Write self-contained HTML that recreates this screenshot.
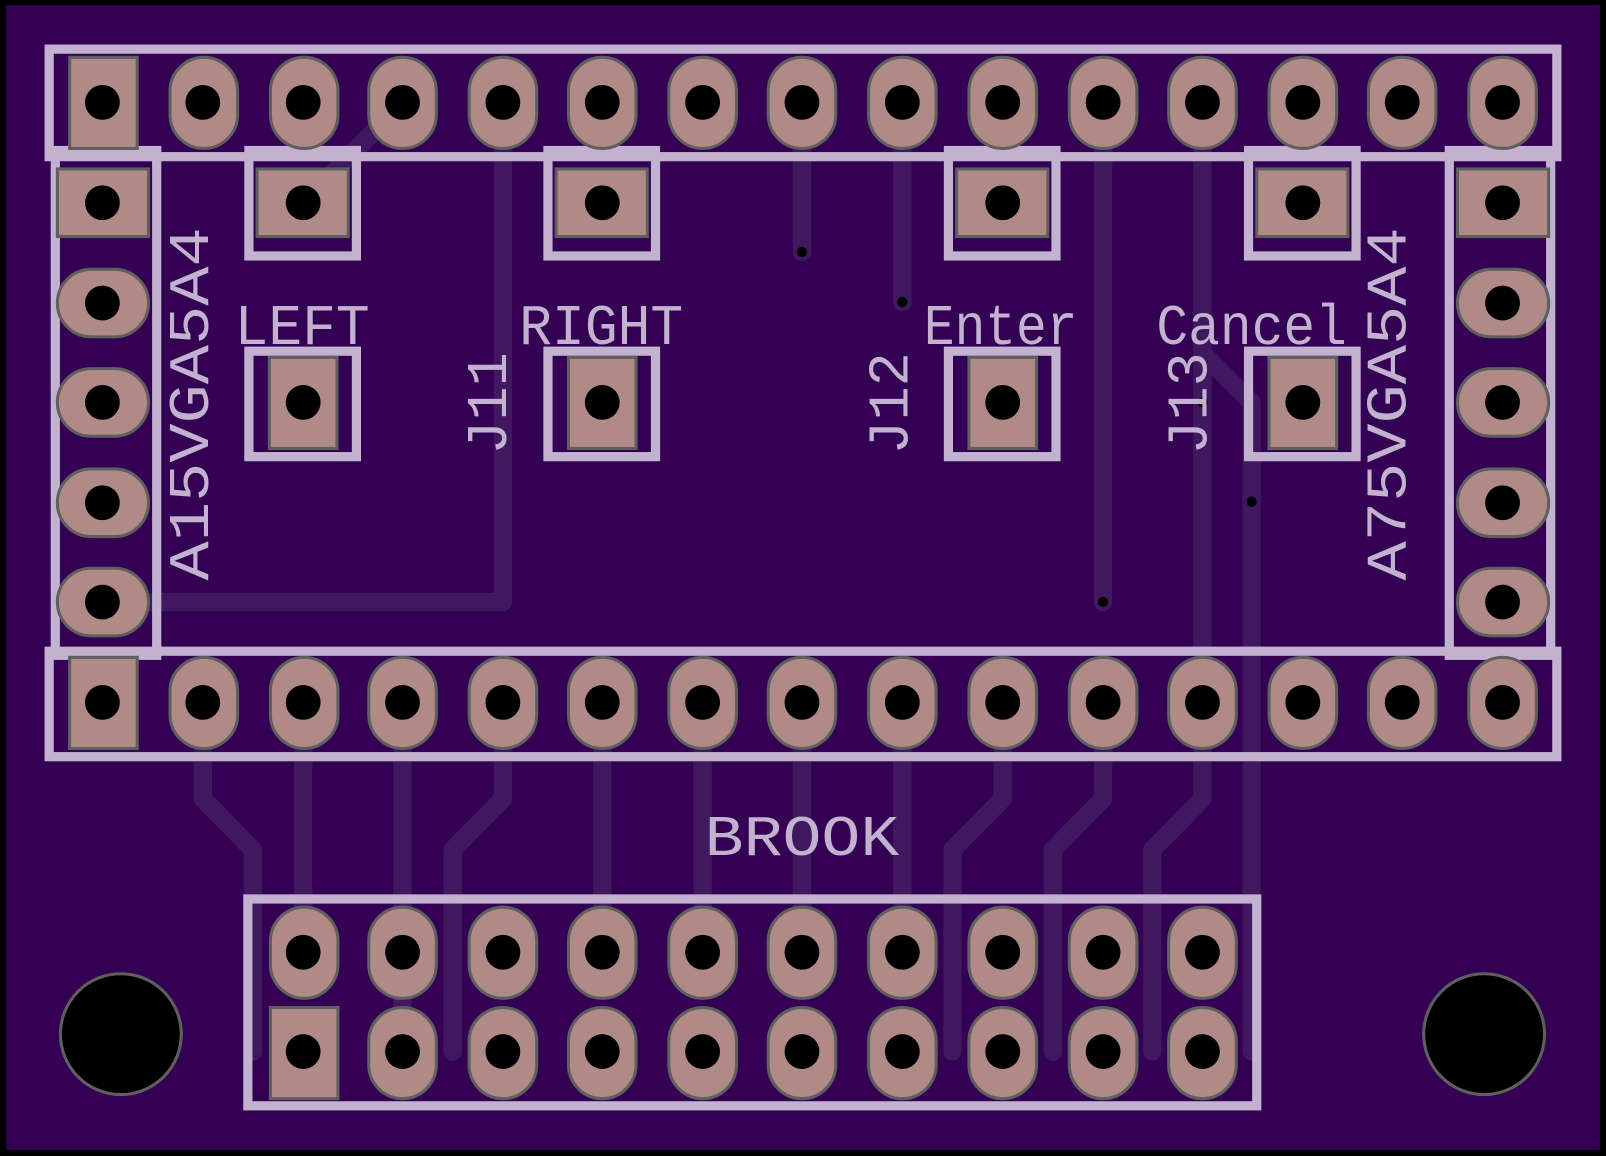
<!DOCTYPE html>
<html><head><meta charset="utf-8"><style>
html,body{margin:0;padding:0;background:#000;}
svg{display:block}
</style></head><body>
<svg width="1606" height="1156" viewBox="0 0 1568 1129" preserveAspectRatio="none" xmlns="http://www.w3.org/2000/svg">
<rect x="0" y="0" width="1568" height="1129" fill="#000"/>
<rect x="6" y="5" width="1556" height="1118" fill="#330054"/>
<!-- traces -->
<g fill="none" stroke="#3f185f" stroke-width="18" stroke-linejoin="round" stroke-linecap="round">
<path d="M198 686 V780 L247 830 V1027"/>
<path d="M296 686 V930"/>
<path d="M393 686 V1027"/>
<path d="M491 686 V780 L442 830 V1027"/>
<path d="M588 686 V930"/>
<path d="M686 686 V930"/>
<path d="M783 686 V930"/>
<path d="M881 686 V930"/>
<path d="M979 686 V780 L930 830 V1027"/>
<path d="M1077 686 V780 L1028 830 V1027"/>
<path d="M1174 686 V780 L1125 830 V1027"/>
<path d="M1222 490 V1027"/>
<path d="M491 100 V588 H100"/>
<path d="M783 100 V246"/>
<path d="M881 100 V295"/>
<path d="M1077 100 V588"/>
<path d="M1174 100 V686"/>
<path d="M1174 345 L1222 393 V490"/>
<path d="M296 198 L393 100"/>
</g>
<g fill="#000"><circle cx="783" cy="246" r="5"/><circle cx="881" cy="295" r="5"/><circle cx="1077" cy="588" r="5"/><circle cx="1174" cy="393" r="5"/><circle cx="1222" cy="490" r="5"/></g>
<!-- silk outlines -->
<g fill="none" stroke="#c3b2cf" stroke-width="9">
<rect x="48" y="48" width="1472" height="105"/>
<rect x="48" y="636" width="1472" height="103"/>
<rect x="54" y="147" width="99" height="493"/>
<rect x="1415" y="147" width="99" height="493"/>
<rect x="243" y="147" width="105" height="103"/>
<rect x="535" y="147" width="105" height="103"/>
<rect x="926" y="147" width="105" height="103"/>
<rect x="1219" y="147" width="105" height="103"/>
<rect x="243" y="343" width="105" height="103"/>
<rect x="535" y="343" width="105" height="103"/>
<rect x="926" y="343" width="105" height="103"/>
<rect x="1219" y="343" width="105" height="103"/>
<rect x="242" y="878" width="985" height="202"/>
</g>
<g fill="#b08a86" stroke="#5f5f5f" stroke-width="3">
<!-- top row -->
<rect x="68" y="56" width="66" height="89"/>
<rect x="166" y="56" width="66" height="89" rx="33"/>
<rect x="264" y="56" width="66" height="89" rx="33"/>
<rect x="360" y="56" width="66" height="89" rx="33"/>
<rect x="458" y="56" width="66" height="89" rx="33"/>
<rect x="555" y="56" width="66" height="89" rx="33"/>
<rect x="653" y="56" width="66" height="89" rx="33"/>
<rect x="750" y="56" width="66" height="89" rx="33"/>
<rect x="848" y="56" width="66" height="89" rx="33"/>
<rect x="946" y="56" width="66" height="89" rx="33"/>
<rect x="1044" y="56" width="66" height="89" rx="33"/>
<rect x="1141" y="56" width="66" height="89" rx="33"/>
<rect x="1239" y="56" width="66" height="89" rx="33"/>
<rect x="1336" y="56" width="66" height="89" rx="33"/>
<rect x="1434" y="56" width="66" height="89" rx="33"/>
<!-- bottom header -->
<rect x="68" y="642" width="66" height="89"/>
<rect x="166" y="642" width="66" height="89" rx="33"/>
<rect x="264" y="642" width="66" height="89" rx="33"/>
<rect x="360" y="642" width="66" height="89" rx="33"/>
<rect x="458" y="642" width="66" height="89" rx="33"/>
<rect x="555" y="642" width="66" height="89" rx="33"/>
<rect x="653" y="642" width="66" height="89" rx="33"/>
<rect x="750" y="642" width="66" height="89" rx="33"/>
<rect x="848" y="642" width="66" height="89" rx="33"/>
<rect x="946" y="642" width="66" height="89" rx="33"/>
<rect x="1044" y="642" width="66" height="89" rx="33"/>
<rect x="1141" y="642" width="66" height="89" rx="33"/>
<rect x="1239" y="642" width="66" height="89" rx="33"/>
<rect x="1336" y="642" width="66" height="89" rx="33"/>
<rect x="1434" y="642" width="66" height="89" rx="33"/>
<!-- side columns -->
<rect x="56" y="165" width="89" height="66"/>
<rect x="56" y="263" width="89" height="66" rx="33"/>
<rect x="56" y="360" width="89" height="66" rx="33"/>
<rect x="56" y="458" width="89" height="66" rx="33"/>
<rect x="56" y="555" width="89" height="66" rx="33"/>
<rect x="1423" y="165" width="89" height="66"/>
<rect x="1423" y="263" width="89" height="66" rx="33"/>
<rect x="1423" y="360" width="89" height="66" rx="33"/>
<rect x="1423" y="458" width="89" height="66" rx="33"/>
<rect x="1423" y="555" width="89" height="66" rx="33"/>
<!-- buttons -->
<rect x="251" y="165" width="89" height="66"/>
<rect x="543" y="165" width="89" height="66"/>
<rect x="934" y="165" width="89" height="66"/>
<rect x="1227" y="165" width="89" height="66"/>
<rect x="263" y="349" width="66" height="89"/>
<rect x="555" y="349" width="66" height="89"/>
<rect x="946" y="349" width="66" height="89"/>
<rect x="1239" y="349" width="66" height="89"/>
<!-- brook -->
<rect x="264" y="886" width="66" height="89" rx="33"/>
<rect x="360" y="886" width="66" height="89" rx="33"/>
<rect x="458" y="886" width="66" height="89" rx="33"/>
<rect x="555" y="886" width="66" height="89" rx="33"/>
<rect x="653" y="886" width="66" height="89" rx="33"/>
<rect x="750" y="886" width="66" height="89" rx="33"/>
<rect x="848" y="886" width="66" height="89" rx="33"/>
<rect x="946" y="886" width="66" height="89" rx="33"/>
<rect x="1044" y="886" width="66" height="89" rx="33"/>
<rect x="1141" y="886" width="66" height="89" rx="33"/>
<rect x="264" y="984" width="66" height="89"/>
<rect x="360" y="984" width="66" height="89" rx="33"/>
<rect x="458" y="984" width="66" height="89" rx="33"/>
<rect x="555" y="984" width="66" height="89" rx="33"/>
<rect x="653" y="984" width="66" height="89" rx="33"/>
<rect x="750" y="984" width="66" height="89" rx="33"/>
<rect x="848" y="984" width="66" height="89" rx="33"/>
<rect x="946" y="984" width="66" height="89" rx="33"/>
<rect x="1044" y="984" width="66" height="89" rx="33"/>
<rect x="1141" y="984" width="66" height="89" rx="33"/>
</g>
<!-- drill holes -->
<g fill="#000">
<circle cx="100" cy="100" r="17"/><circle cx="198" cy="100" r="17"/><circle cx="296" cy="100" r="17"/><circle cx="393" cy="100" r="17"/><circle cx="491" cy="100" r="17"/><circle cx="588" cy="100" r="17"/><circle cx="686" cy="100" r="17"/><circle cx="783" cy="100" r="17"/><circle cx="881" cy="100" r="17"/><circle cx="979" cy="100" r="17"/><circle cx="1077" cy="100" r="17"/><circle cx="1174" cy="100" r="17"/><circle cx="1272" cy="100" r="17"/><circle cx="1369" cy="100" r="17"/><circle cx="1467" cy="100" r="17"/>
<circle cx="100" cy="686" r="17"/><circle cx="198" cy="686" r="17"/><circle cx="296" cy="686" r="17"/><circle cx="393" cy="686" r="17"/><circle cx="491" cy="686" r="17"/><circle cx="588" cy="686" r="17"/><circle cx="686" cy="686" r="17"/><circle cx="783" cy="686" r="17"/><circle cx="881" cy="686" r="17"/><circle cx="979" cy="686" r="17"/><circle cx="1077" cy="686" r="17"/><circle cx="1174" cy="686" r="17"/><circle cx="1272" cy="686" r="17"/><circle cx="1369" cy="686" r="17"/><circle cx="1467" cy="686" r="17"/>
<circle cx="100" cy="198" r="17"/><circle cx="100" cy="296" r="17"/><circle cx="100" cy="393" r="17"/><circle cx="100" cy="491" r="17"/><circle cx="100" cy="588" r="17"/>
<circle cx="1467" cy="198" r="17"/><circle cx="1467" cy="296" r="17"/><circle cx="1467" cy="393" r="17"/><circle cx="1467" cy="491" r="17"/><circle cx="1467" cy="588" r="17"/>
<circle cx="296" cy="198" r="17"/><circle cx="588" cy="198" r="17"/><circle cx="979" cy="198" r="17"/><circle cx="1272" cy="198" r="17"/>
<circle cx="296" cy="393" r="17"/><circle cx="588" cy="393" r="17"/><circle cx="979" cy="393" r="17"/><circle cx="1272" cy="393" r="17"/>
<circle cx="296" cy="930" r="17"/><circle cx="393" cy="930" r="17"/><circle cx="491" cy="930" r="17"/><circle cx="588" cy="930" r="17"/><circle cx="686" cy="930" r="17"/><circle cx="783" cy="930" r="17"/><circle cx="881" cy="930" r="17"/><circle cx="979" cy="930" r="17"/><circle cx="1077" cy="930" r="17"/><circle cx="1174" cy="930" r="17"/>
<circle cx="296" cy="1027" r="17"/><circle cx="393" cy="1027" r="17"/><circle cx="491" cy="1027" r="17"/><circle cx="588" cy="1027" r="17"/><circle cx="686" cy="1027" r="17"/><circle cx="783" cy="1027" r="17"/><circle cx="881" cy="1027" r="17"/><circle cx="979" cy="1027" r="17"/><circle cx="1077" cy="1027" r="17"/><circle cx="1174" cy="1027" r="17"/>
</g>
<circle cx="118" cy="1010" r="59" fill="#000" stroke="#5f5f5f" stroke-width="3"/>
<circle cx="1449" cy="1010" r="59" fill="#000" stroke="#5f5f5f" stroke-width="3"/>
<!-- labels -->
<g fill="#c3b2cf" font-family="Liberation Mono, monospace">
<text x="295" y="336" font-size="56" text-anchor="middle" textLength="132" lengthAdjust="spacingAndGlyphs">LEFT</text>
<text x="587" y="336" font-size="56" text-anchor="middle" textLength="160" lengthAdjust="spacingAndGlyphs">RIGHT</text>
<text x="977" y="336" font-size="56" text-anchor="middle" textLength="150" lengthAdjust="spacingAndGlyphs">Enter</text>
<text x="1222" y="336" font-size="56" text-anchor="middle" textLength="186" lengthAdjust="spacingAndGlyphs">Cancel</text>
<text x="783" y="835" font-size="56" text-anchor="middle" textLength="190" lengthAdjust="spacingAndGlyphs">BROOK</text>
<text transform="translate(203,567) rotate(-90)" font-size="56" textLength="345" lengthAdjust="spacingAndGlyphs">A15VGA5A4</text>
<text transform="translate(1372,567) rotate(-90)" font-size="56" textLength="345" lengthAdjust="spacingAndGlyphs">A75VGA5A4</text>
<text transform="translate(494,444) rotate(-90)" font-size="56" textLength="100" lengthAdjust="spacingAndGlyphs">J11</text>
<text transform="translate(886,444) rotate(-90)" font-size="56" textLength="100" lengthAdjust="spacingAndGlyphs">J12</text>
<text transform="translate(1178,444) rotate(-90)" font-size="56" textLength="100" lengthAdjust="spacingAndGlyphs">J13</text>
</g>
</svg>
</body></html>
